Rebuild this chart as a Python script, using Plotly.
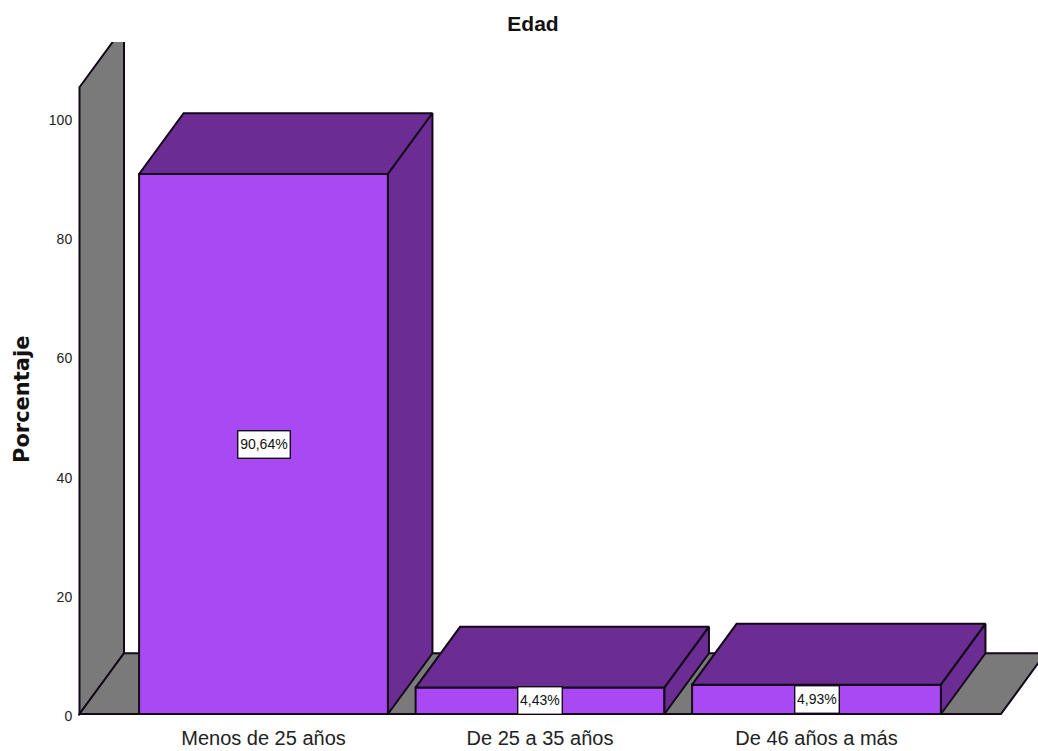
import plotly.graph_objects as go

categories = ["Menos de 25 años", "De 25 a 35 años", "De 46 años a más"]
percent = [90.64, 4.43, 4.93]
labels = ["90,64%", "4,43%", "4,93%"]
label_widths = [53, 45, 45]
y_ticks = [0, 20, 40, 60, 80, 100]

FRONT = "#A849F4"
DARK = "#6B2D94"
GRAY = "#7A7A7A"
EDGE = "#120818"
EDGE_W = 2
FONT = "Liberation Sans, Arial, sans-serif"

BAR_W = 0.9          # bar width, category units
DX = 0.161           # depth along x, category units
DY = 10.2            # depth along y, percent units
WALL_TOP = 105.2
WALL_X = -0.6655
FLOOR_END = 2.667

fig = go.Figure()

wall = (f"M{WALL_X},0 L{WALL_X},{WALL_TOP} L{WALL_X+DX},{WALL_TOP+DY} "
        f"L{WALL_X+DX},{DY} Z")
floor = (f"M{WALL_X},0 L{WALL_X+DX},{DY} L{FLOOR_END+DX},{DY} L{FLOOR_END},0 Z")
shapes = [
    dict(type="path", path=p, xref="x", yref="y", layer="below",
         fillcolor=GRAY, line=dict(color=EDGE, width=EDGE_W))
    for p in (wall, floor)
]

fig.add_trace(go.Bar(
    x=list(range(len(categories))), y=percent, width=BAR_W,
    marker=dict(color=FRONT, line=dict(color=EDGE, width=EDGE_W)),
    hoverinfo="skip", showlegend=False,
))

for i, v in enumerate(percent):
    l, r = i - BAR_W / 2, i + BAR_W / 2
    fig.add_trace(go.Scatter(
        x=[l, l + DX, r + DX, r, l], y=[v, v + DY, v + DY, v, v],
        mode="lines", fill="toself", fillcolor=DARK,
        line=dict(color=EDGE, width=EDGE_W), hoverinfo="skip", showlegend=False,
    ))
    fig.add_trace(go.Scatter(
        x=[r, r + DX, r + DX, r, r], y=[v, v + DY, DY, 0, v],
        mode="lines", fill="toself", fillcolor=DARK,
        line=dict(color=EDGE, width=EDGE_W), hoverinfo="skip", showlegend=False,
    ))

annotations = [
    dict(x=i, y=v / 2, xref="x", yref="y", text=t, showarrow=False,
         width=w - 2, height=26, bgcolor="white", bordercolor=EDGE, borderwidth=1.4,
         borderpad=0, font=dict(family=FONT, size=14, color="#111"))
    for i, (v, t, w) in enumerate(zip(percent, labels, label_widths))
]
annotations.append(dict(
    x=(22 - 78) / 960, y=(716 - 400) / 674, xref="paper", yref="paper",
    xanchor="center", yanchor="middle", text="<b>Porcentaje</b>",
    textangle=-90, showarrow=False,
    font=dict(family="DejaVu Sans", size=21, color="#111"),
))

fig.update_layout(
    width=1038, height=751, autosize=False,
    margin=dict(l=78, r=0, t=42, b=35),
    paper_bgcolor="white", plot_bgcolor="white",
    title=dict(text="<b>Edad</b>", x=533 / 1038, xanchor="center",
               y=1 - 24 / 751, yanchor="middle",
               font=dict(family=FONT, size=21, color="#111")),
    shapes=shapes, annotations=annotations,
    xaxis=dict(range=[-0.6709, 2.801], tickvals=list(range(len(categories))),
               ticktext=categories, showgrid=False, zeroline=False, showline=False,
               ticks="outside", ticklen=4, tickcolor="rgba(0,0,0,0)",
               tickfont=dict(family=FONT, size=20, color="#222")),
    yaxis=dict(range=[-0.336, 112.8], tickvals=y_ticks, showgrid=False,
               zeroline=False, showline=False, ticks="outside", ticklen=2,
               tickcolor="rgba(0,0,0,0)", ticklabelshift=2,
               tickfont=dict(family=FONT, size=14, color="#222")),
)

# drop the page's default margin so the figure fills the window
fig.write_html("out.html", config={"displayModeBar": False},
               post_script="document.body.style.margin='0';")
